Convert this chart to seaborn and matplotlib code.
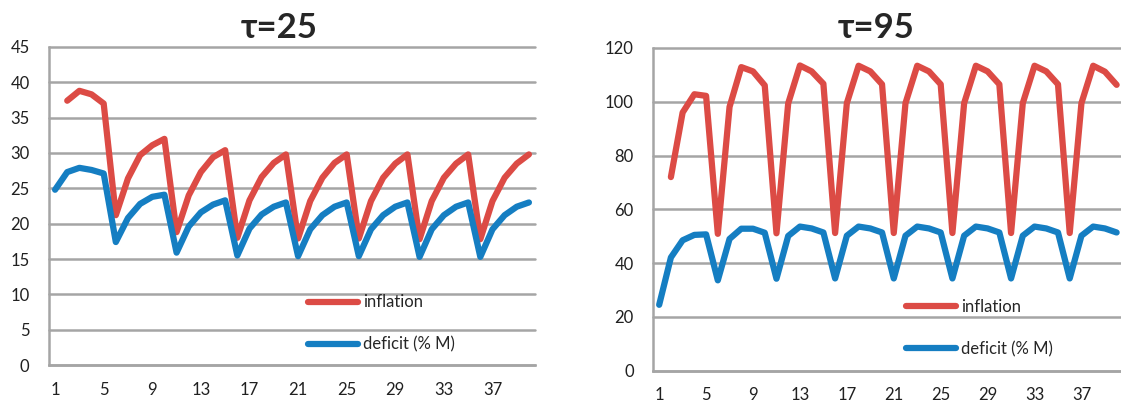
import numpy as np
import pandas as pd
import seaborn as sns
import matplotlib.pyplot as plt
from matplotlib.lines import Line2D

# periods 1..40
periods = list(range(1, 41))

# tau = 25 panel
infl_25 = [np.nan, 37.4, 38.8, 38.3, 37.0, 21.2, 26.4, 29.7, 31.1, 32.0,
           18.8, 24.0, 27.3, 29.4, 30.4, 18.0, 23.3, 26.6, 28.6, 29.8,
           17.9, 23.2, 26.5, 28.6, 29.8, 17.9, 23.2, 26.5, 28.5, 29.8,
           17.8, 23.2, 26.5, 28.5, 29.8, 17.8, 23.2, 26.5, 28.5, 29.8]
def_25 = [24.8, 27.3, 27.9, 27.6, 27.1, 17.4, 20.8, 22.8, 23.8, 24.1,
          15.9, 19.6, 21.6, 22.7, 23.3, 15.5, 19.3, 21.3, 22.4, 23.0,
          15.4, 19.2, 21.2, 22.4, 23.0, 15.4, 19.2, 21.2, 22.4, 23.0,
          15.3, 19.2, 21.2, 22.4, 23.0, 15.3, 19.2, 21.2, 22.4, 23.0]

# tau = 95 panel
infl_95 = [np.nan, 72.0, 96.0, 102.8, 102.2, 50.9, 98.1, 112.9, 111.3, 106.1,
           51.1, 99.4, 113.5, 111.3, 106.7, 51.2, 99.5, 113.4, 111.3, 106.5,
           51.2, 99.5, 113.4, 111.3, 106.5, 51.2, 99.5, 113.4, 111.3, 106.5,
           51.2, 99.5, 113.4, 111.3, 106.5, 51.2, 99.5, 113.4, 111.2, 106.3]
def_95 = [24.5, 42.1, 48.5, 50.5, 50.7, 33.6, 49.0, 52.8, 52.8, 51.3,
          34.2, 50.1, 53.6, 52.9, 51.4, 34.3, 50.2, 53.6, 52.9, 51.4,
          34.3, 50.2, 53.6, 52.9, 51.4, 34.3, 50.2, 53.6, 52.9, 51.4,
          34.3, 50.2, 53.6, 52.9, 51.4, 34.3, 50.2, 53.6, 52.9, 51.4]

titles = ["\u03c4=25", "\u03c4=95"]
labels = ["inflation", "deficit (% M)"]
red = "#DC4B45"
blue = "#157EC2"
grid_col = "#A5A5A5"

sns.set_style("white")
plt.rcParams['font.family'] = ['Lato', 'DejaVu Sans']

fig = plt.figure(figsize=(11.21, 4.03), dpi=100)
ax1 = fig.add_axes([49 / 1121, 38 / 403, 486 / 1121, 318 / 403])
ax2 = fig.add_axes([653.3 / 1121, 32.3 / 403, 469.2 / 1121, 322.7 / 403])

panels = [
    (ax1, infl_25, def_25, 45, 5, 0.533, 0.222, 279, titles[0]),
    (ax2, infl_95, def_95, 120, 20, 0.539, 0.222, 876, titles[1]),
]

for ax, infl, deft, ymax, ystep, lx, ly, tx, title in panels:
    df = pd.DataFrame({'period': periods, 'inflation': infl, 'deficit': deft})
    sns.lineplot(data=df, x='period', y='inflation', ax=ax, color=red, lw=4.5,
                 solid_joinstyle='round', solid_capstyle='round')
    sns.lineplot(data=df, x='period', y='deficit', ax=ax, color=blue, lw=4.5,
                 solid_joinstyle='round', solid_capstyle='round')

    ax.set_xlim(0.5, 40.5)
    ax.set_ylim(0, ymax)
    ax.set_xlabel("")
    ax.set_ylabel("")

    ax.set_yticks(np.arange(0, ymax + 1, ystep))
    ax.yaxis.grid(True, color=grid_col, lw=1.8)
    for gl in ax.get_ygridlines():
        gl.set_clip_on(False)
    ax.set_xticks(periods[::4])
    ax.set_xticks(np.arange(0.5, 41, 1), minor=True)
    ax.tick_params(axis='x', which='major', length=0, pad=12, labelsize=12,
                   colors='#202020')
    ax.tick_params(axis='x', which='minor', length=5, width=1.8,
                   color=grid_col, direction='out')
    ax.tick_params(axis='y', which='major', length=5, width=1.8,
                   color=grid_col, direction='out', pad=9, labelsize=12,
                   labelcolor='#202020')

    for side in ['top', 'right']:
        ax.spines[side].set_visible(False)
    for side in ['left', 'bottom']:
        ax.spines[side].set_color(grid_col)
        ax.spines[side].set_linewidth(1.8)

    handles = [Line2D([], [], color=red, lw=4.5, solid_capstyle='round'),
               Line2D([], [], color=blue, lw=4.5, solid_capstyle='round')]
    ax.legend(handles, labels, loc='upper left', bbox_to_anchor=(lx, ly),
              frameon=False, fontsize=12, handlelength=3.0,
              handletextpad=0.3, labelspacing=1.55, borderpad=0,
              borderaxespad=0)

    fig.text(tx / 1121, 1 - 37.5 / 403, title,
             ha='center', va='baseline', fontsize=25, fontweight='bold')

fig.savefig("out.png", dpi=100)
